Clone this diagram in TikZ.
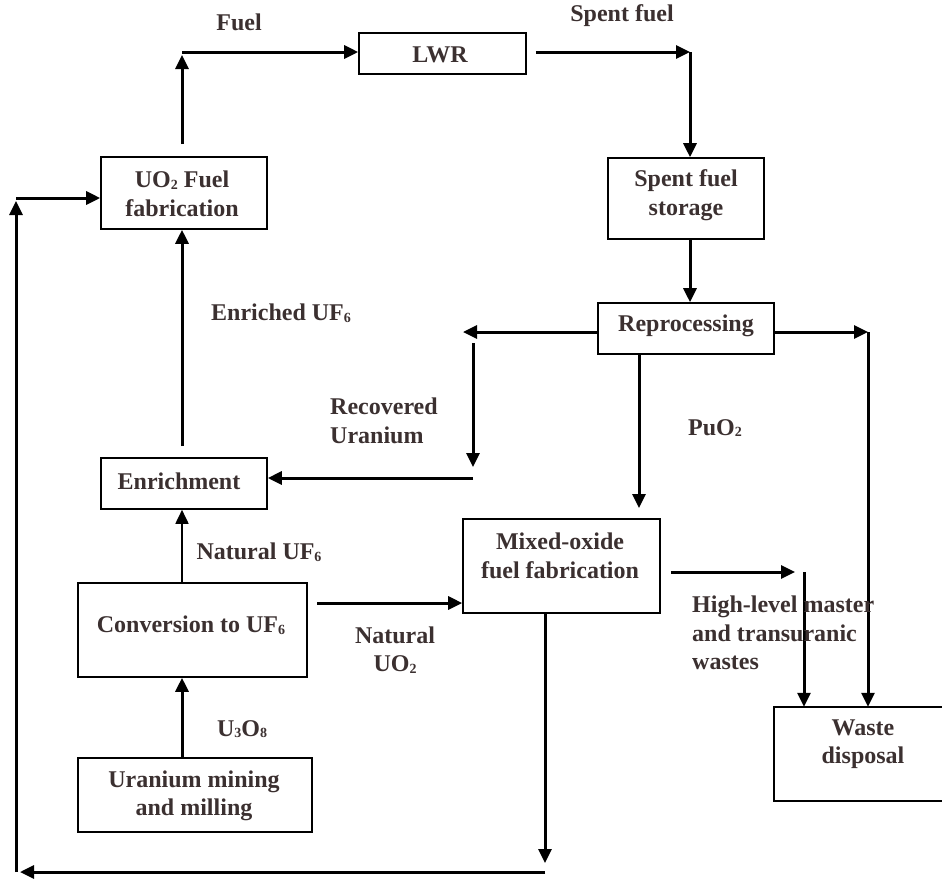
\documentclass[tikz,border=0pt]{standalone}
\usepackage{fontspec}
\setmainfont{Liberation Serif}
\usetikzlibrary{arrows.meta,calc}
\definecolor{ink}{HTML}{3B3030}
% small index digits in chemical formulas
\newcommand{\ix}[1]{\raisebox{-0.15ex}{\fontsize{14}{14}\selectfont #1}}
\begin{document}
\begin{tikzpicture}[x=1pt,y=-1pt,
  box/.style={draw,line width=1.6pt,inner sep=0pt},
  txt/.style={text=ink,font=\fontsize{24}{28.5}\selectfont\bfseries,align=center,inner sep=0pt},
  arr/.style={line width=3pt,-{Triangle[length=14pt,width=13pt]}},
  thinarr/.style={line width=1.8pt,-{Triangle[length=14pt,width=13pt]}}]
\useasboundingbox (0,0) rectangle (942,879);

% process boxes
\node[box,minimum width=167pt,minimum height=41pt] (lwr) at (442.5,53.5) {};
\node[box,minimum width=166pt,minimum height=72pt] (uo2) at (184,193) {};
\node[box,minimum width=156pt,minimum height=81pt] (sfs) at (686,198.5) {};
\node[box,minimum width=176pt,minimum height=51pt] (rep) at (686,328.5) {};
\node[box,minimum width=166pt,minimum height=51pt] (enr) at (184,483.5) {};
\node[box,minimum width=197pt,minimum height=94pt] (mox) at (561.5,566) {};
\node[box,minimum width=229pt,minimum height=94pt] (conv) at (192.5,630) {};
\node[box,minimum width=234pt,minimum height=74pt] (mine) at (195,795) {};
\node[minimum width=170pt,minimum height=94pt,inner sep=0pt] (waste) at (859,754) {};
\draw[line width=1.6pt] (waste.north east) -- (waste.north west) -- (waste.south west) -- (waste.south east);

% box texts
\node[txt] (lwrt) at (440,55) {LWR};
\node[txt] (uo2t) at (182,194) {UO\ix{2} Fuel\\fabrication};
\node[txt] (sfst) at (686,195) {Spent fuel\\storage};
\node[txt] (rept) at (686,326) {Reprocessing};
\node[txt] (enrt) at (179,481) {Enrichment};
\node[txt] (moxt) at (560,556) {Mixed-oxide\\fuel fabrication};
\node[txt] (convt) at (191,625) {Conversion to UF\ix{6}};
\node[txt] (minet) at (194,796) {Uranium mining\\and milling};
\node[txt] (wastet) at (863,744) {Waste\\disposal};

% turning points of the connectors
\coordinate (fuelc) at (182,52);
\coordinate (spentc) at (690,52);
\coordinate (rul) at (463,332);
\coordinate (rutop) at (473,343);
\coordinate (rubot) at (473,478);
\coordinate (putip) at (639,508);
\coordinate (rrt) at (868,332);
\coordinate (moxr) at (804,572);
\coordinate (natc) at (317,603);
\coordinate (botr) at (545,872);
\coordinate (botl) at (16,872);
\coordinate (leftt) at (16,198);

% front end of the cycle
\draw[arr] (mine.north -| fuelc) -- (conv.south -| fuelc);
\draw[thinarr] (conv.north -| fuelc) -- (enr.south -| fuelc);
\draw[arr] ($(enr.north -| fuelc)+(0,-11)$) -- (uo2.south -| fuelc);
\draw[arr] ($(uo2.north -| fuelc)+(0,-12)$) -- ($(fuelc)+(0,3)$);
\draw[arr] (fuelc) -- (lwr.west |- fuelc);
\draw[arr] ($(lwr.east |- spentc)+(9,0)$) -- (spentc);
\draw[arr] (spentc) -- (sfs.north -| spentc);
\draw[arr] (sfs.south -| spentc) -- (rep.north -| spentc);

% reprocessing outputs
\draw[arr] (rep.west |- rul) -- (rul);
\draw[arr] (rutop) -- ($(rubot)+(0,-11)$);
\draw[arr] (rubot) -- (enr.east |- rubot);
\draw[arr] (rep.south -| putip) -- (putip);
\draw[arr] (rep.east |- rrt) -- (rrt);
\draw[arr] (rrt) -- (waste.north -| rrt);

% mixed-oxide branch
\draw[arr] (natc) -- (mox.west |- natc);
\draw[arr] ($(mox.east |- moxr)+(10,0)$) -- ($(moxr)+(-9,0)$);
\draw[arr] (moxr) -- (waste.north -| moxr);
\draw[arr] (mox.south -| botr) -- ($(botr)+(0,-9)$);
\draw[arr] (botr) -- ($(botl)+(4,0)$);
\draw[arr] (botl) -- ($(leftt)+(0,3)$);
\draw[arr] (leftt) -- (uo2.west |- leftt);

% flow labels
\node[txt] (lfuel) at (239,22) {Fuel};
\node[txt] (lspent) at (622,16) {Spent fuel};
\node[txt] (lenr) at (281,313) {Enriched UF\ix{6}};
\node[txt,anchor=west,align=left] (lrec) at (330,421) {Recovered\\Uranium};
\node[txt] (lpu) at (715,428) {PuO\ix{2}};
\node[txt] (lnuf) at (259,552) {Natural UF\ix{6}};
\node[txt] (lnuo) at (395,650) {Natural\\UO\ix{2}};
\node[txt] (lu3) at (242,729) {U\ix{3}O\ix{8}};
\node[txt,anchor=west,align=left] (lhlw) at (692,633) {High-level master\\and transuranic\\wastes};
\end{tikzpicture}
\end{document}
